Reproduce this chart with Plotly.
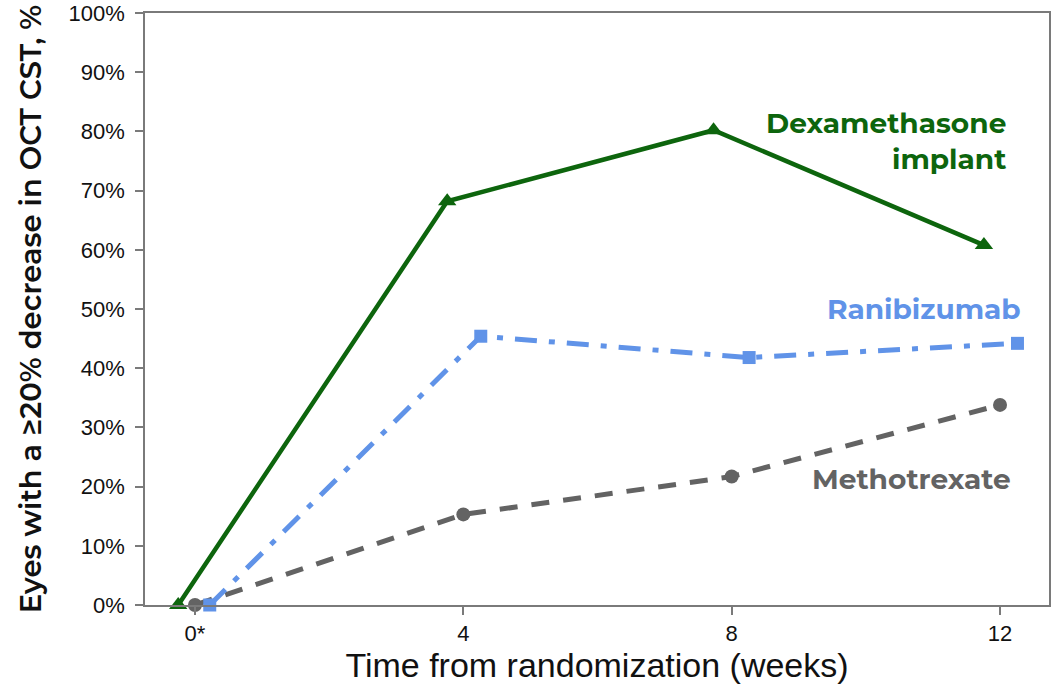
import plotly.graph_objects as go

# weeks from randomization (points are nudged sideways per arm, as in the figure)
weeks_dex = [-0.25, 3.76, 7.73, 11.76]
weeks_rani = [0.22, 4.26, 8.26, 12.26]
weeks_mtx = [0.0, 4.0, 8.0, 12.0]

# % of eyes with >=20% decrease in OCT CST
dex = [0, 68.2, 80.2, 60.8]
rani = [0, 45.4, 41.8, 44.2]
mtx = [0, 15.3, 21.7, 33.8]

x_ticks = [0, 4, 8, 12]
x_ticklabels = ["0*", "4", "8", "12"]
y_ticks = list(range(0, 101, 10))
y_ticklabels = [f"{v}%" for v in y_ticks]

GREEN = "#0d650d"
BLUE = "#6093e8"
GREY = "#636363"
LABEL_FONT = "Montserrat, Inter, Open Sans, sans-serif"
TICK_FONT = "Liberation Sans, Arial, sans-serif"

fig = go.Figure()
fig.add_trace(go.Scatter(x=weeks_mtx, y=mtx, mode="lines+markers", name="Methotrexate",
                         line=dict(color=GREY, width=5, dash="18px,14px"),
                         marker=dict(symbol="circle", size=14, color=GREY),
                         cliponaxis=False))
fig.add_trace(go.Scatter(x=weeks_rani, y=rani, mode="lines+markers", name="Ranibizumab",
                         line=dict(color=BLUE, width=5, dash="22px,12px,6px,12px"),
                         marker=dict(symbol="square", size=13, color=BLUE),
                         cliponaxis=False))
fig.add_trace(go.Scatter(x=weeks_dex, y=dex, mode="lines+markers", name="Dexamethasone implant",
                         line=dict(color=GREEN, width=4.5),
                         marker=dict(symbol="triangle-up", size=16, color=GREEN),
                         cliponaxis=False))

# series labels
fig.add_annotation(x=12.12, y=78.3, xref="x", yref="y", text="Dexamethasone<br>implant",
                   showarrow=False, xanchor="right", yanchor="middle", align="right",
                   font=dict(family=LABEL_FONT, size=28, color=GREEN, weight="bold"))
fig.add_annotation(x=12.34, y=50.0, xref="x", yref="y", text="Ranibizumab",
                   showarrow=False, xanchor="right", yanchor="middle",
                   font=dict(family=LABEL_FONT, size=28, color=BLUE, weight="bold"))
fig.add_annotation(x=12.2, y=21.3, xref="x", yref="y", text="Methotrexate",
                   showarrow=False, xanchor="right", yanchor="middle",
                   font=dict(family=LABEL_FONT, size=28, color=GREY, weight="bold"))

axis_common = dict(showline=True, linecolor="#7a7a7a", linewidth=1.5, mirror=True,
                   ticks="outside", ticklen=8, tickcolor="#7a7a7a", tickwidth=1.5,
                   showgrid=False, zeroline=False, ticklabeloverflow="allow",
                   tickfont=dict(family=TICK_FONT, size=22, color="#111111"))

fig.update_layout(
    width=1051, height=688,
    margin=dict(l=145, r=2, t=13, b=83),
    paper_bgcolor="white", plot_bgcolor="white",
    showlegend=False,
    xaxis=dict(range=[-0.745, 12.73], tickvals=x_ticks, ticktext=x_ticklabels,
               title=dict(text="Time from randomization (weeks)", standoff=6,
                          font=dict(family=TICK_FONT, size=34, color="#111111")),
               automargin=False, **axis_common),
    yaxis=dict(range=[0, 100], tickvals=y_ticks, ticktext=y_ticklabels, ticklabelstandoff=6,
               title=dict(text="Eyes with a ≥20% decrease in OCT CST, %", standoff=18,
                          font=dict(family=LABEL_FONT, size=29, color="#111111", weight=600)),
               automargin=False, **axis_common),
)

fig.write_html("out.html", config={"displayModeBar": False},
               post_script="document.body.style.margin='0';document.body.style.overflow='hidden';")
